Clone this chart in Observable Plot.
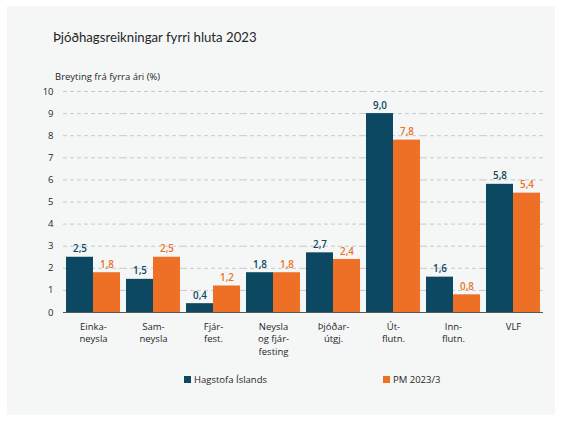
<!DOCTYPE html>
<html>
<head>
<meta charset="utf-8">
<script src="https://cdn.jsdelivr.net/npm/d3@7"></script>
<script src="https://cdn.jsdelivr.net/npm/@observablehq/plot@0.6"></script>
<style>
  html, body { margin: 0; padding: 0; background: #ffffff; }
  body { width: 562px; height: 421px; position: relative; overflow: hidden; font-family: "Open Sans", sans-serif; }
  #panel { position: absolute; left: 7px; top: 6px; width: 548px; height: 409px; background: #f5f7f7; }
  #title { position: absolute; left: 46px; top: 23px; font-family: Lato, sans-serif; font-size: 13.2px; color: #262626; white-space: nowrap; }
  #ylab { position: absolute; left: 48px; top: 64px; font-size: 9.5px; color: #262626; white-space: nowrap; }
  #chart { position: absolute; left: 0; top: 60px; }
  #legend { position: absolute; top: 367px; left: 0; width: 548px; font-size: 9.5px; color: #262626; }
  .item { position: absolute; white-space: nowrap; display: flex; align-items: center; }
  .sw { width: 7px; height: 7px; display: inline-block; margin-right: 3px; }
</style>
</head>
<body>
<div id="panel">
  <div id="title">Þjóðhagsreikningar fyrri hluta 2023</div>
  <div id="ylab">Breyting frá fyrra ári (%)</div>
  <div id="chart"></div>
  <div id="legend"></div>
</div>
<script>
const categories = ["Einka-\nneysla", "Sam-\nneysla", "Fjár-\nfest.", "Neysla\nog fjár-\nfesting", "Þjóðar-\nútgj.", "Út-\nflutn.", "Inn-\nflutn.", "VLF"];
const seriesNames = ["Hagstofa Íslands", "PM 2023/3"];
const hagstofa = [2.5, 1.5, 0.4, 1.8, 2.7, 9.0, 1.6, 5.8];
const pm = [1.8, 2.5, 1.2, 1.8, 2.4, 7.8, 0.8, 5.4];
const colors = ["#0c4862", "#ee7027"];
const yTicks = [0, 1, 2, 3, 4, 5, 6, 7, 8, 9, 10];

const data = [];
categories.forEach((c, i) => {
  data.push({cat: c, series: seriesNames[0], value: hagstofa[i]});
  data.push({cat: c, series: seriesNames[1], value: pm[i]});
});
const fmt = v => v.toFixed(1).replace(".", ",");

const chart = Plot.plot({
  width: 548,
  height: 300,
  marginLeft: 53,
  marginRight: 10,
  marginTop: 25,
  marginBottom: 54,
  style: {background: "transparent", fontFamily: "Open Sans, sans-serif", fontSize: "9.5px", color: "#262626"},
  fx: {domain: categories, padding: 0, label: null},
  x: {domain: seriesNames, paddingInner: 0, paddingOuter: 0.1, axis: null},
  y: {domain: [0, 10], label: null},
  color: {domain: seriesNames, range: colors},
  marks: [
    Plot.axisY(yTicks, {tickSize: 0, tickPadding: 10, label: null, fontSize: 9.5}),
    Plot.axisFx({anchor: "bottom", tickSize: 0, tickPadding: 8, lineHeight: 1.35, label: null, fontSize: 9.5}),
    Plot.ruleY(yTicks.filter(d => d > 0), {stroke: "#c6c9ca", strokeDasharray: "4,3", strokeWidth: 1}),
    Plot.barY(data, {fx: "cat", x: "series", y: "value", fill: "series"}),
    Plot.text(data, {fx: "cat", x: "series", y: "value", text: d => fmt(d.value), fill: "series", dy: -8, fontWeight: 600, fontSize: 9.8}),
    Plot.ruleY([0], {stroke: "#595959", strokeWidth: 1})
  ]
});
document.getElementById("chart").appendChild(chart);

const legend = document.getElementById("legend");
const lx = [177, 376];
seriesNames.forEach((s, i) => {
  const el = document.createElement("div");
  el.className = "item";
  el.style.left = lx[i] + "px";
  el.innerHTML = `<span class="sw" style="background:${colors[i]}"></span>${s}`;
  legend.appendChild(el);
});
</script>
</body>
</html>
